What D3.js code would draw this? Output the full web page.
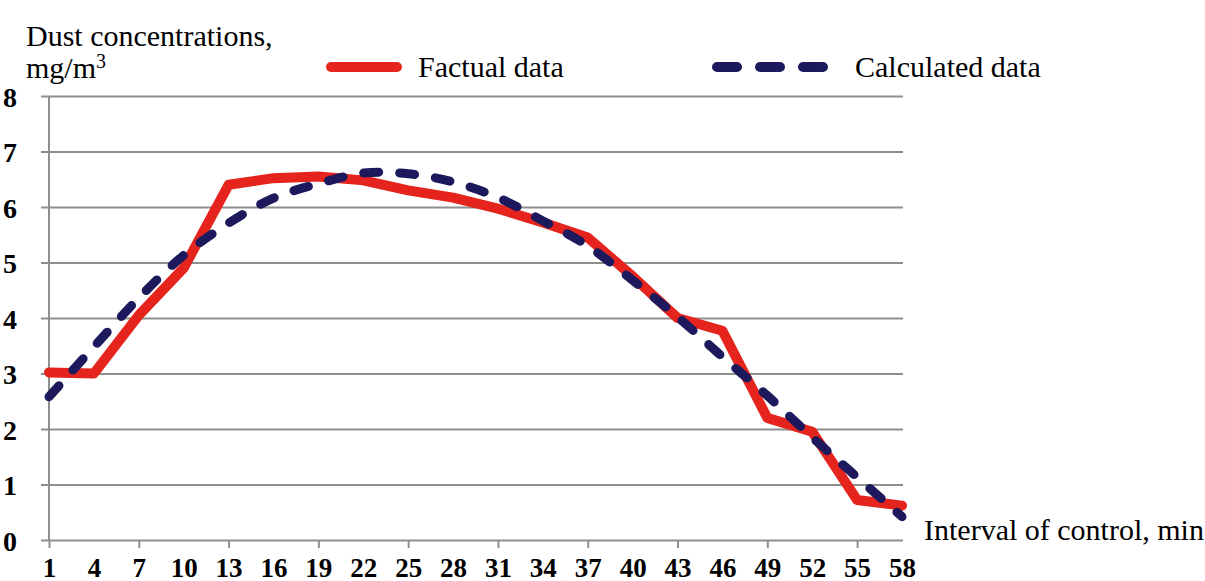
<!DOCTYPE html>
<html>
<head>
  <meta charset="utf-8">
  <script src="https://d3js.org/d3.v7.min.js"></script>
  <style>
    body { margin: 0; background: #fff; }
    text { font-family: "Liberation Serif", "Times New Roman", serif; fill: #000; }
  </style>
</head>
<body>
  <script type="text/javascript">
    // interval of control, min (every 3 minutes)
    var minutes = [1, 4, 7, 10, 13, 16, 19, 22, 25, 28, 31, 34, 37, 40, 43, 46, 49, 52, 55, 58];
    // dust concentrations, mg/m3
    var factual = [3.02, 3.0, 4.05, 4.9, 6.4, 6.52, 6.55, 6.48, 6.3, 6.17, 5.97, 5.72, 5.45, 4.75, 4.0, 3.77, 2.2, 1.95, 0.72, 0.62];
    var calculated = [2.58, 3.48, 4.36, 5.13, 5.71, 6.16, 6.42, 6.61, 6.6, 6.45, 6.17, 5.75, 5.3, 4.68, 4.02, 3.3, 2.6, 1.85, 1.13, 0.42];
    var yTicks = [0, 1, 2, 3, 4, 5, 6, 7, 8];
    var xMarks = [1, 7, 13, 19, 25, 31, 37, 43, 49, 55];

    function draw() {
      "use strict";
      var width = 1205, height = 581;
      var plotLeft = 49, plotRight = 902, plotTop = 96, plotBottom = 540;
      var red = "#e5241d", navy = "#1c1a5c", grid = "#8e8e8e";

      var svg = d3.select("body")
        .append("svg")
        .attr("width", width)
        .attr("height", height);

      var x = d3.scaleLinear().domain([1, 58]).range([plotLeft, plotRight]);
      var y = d3.scaleLinear().domain([0, 8]).range([plotBottom, plotTop]);

      // horizontal gridlines + y labels
      var yAxis = svg.append("g")
        .attr("transform", "translate(" + plotLeft + ",0)")
        .call(d3.axisLeft(y).tickValues(yTicks).tickSize(8).tickPadding(24).tickFormat(d3.format("d")));
      yAxis.select(".domain").remove();
      yAxis.selectAll("line")
        .attr("x1", -8)
        .attr("x2", plotRight + 1 - plotLeft)
        .style("stroke", grid)
        .style("stroke-width", 2);
      yAxis.selectAll("text")
        .style("font-size", "28px")
        .style("font-weight", 600)
        .attr("dy", "0.36em");

      // vertical axis line
      svg.append("line")
        .attr("x1", plotLeft).attr("x2", plotLeft)
        .attr("y1", y(8)).attr("y2", y(0))
        .style("stroke", grid)
        .style("stroke-width", 2);

      // x tick marks every 6 minutes
      var xTickAxis = svg.append("g")
        .attr("transform", "translate(0," + plotBottom + ")")
        .call(d3.axisBottom(x).tickValues(xMarks).tickSize(8).tickFormat(""));
      xTickAxis.select(".domain").remove();
      xTickAxis.selectAll("line").style("stroke", grid).style("stroke-width", 2);

      // x labels every 3 minutes
      var xAxis = svg.append("g")
        .attr("transform", "translate(0," + plotBottom + ")")
        .call(d3.axisBottom(x).tickValues(minutes).tickSize(0).tickPadding(18).tickFormat(d3.format("d")));
      xAxis.select(".domain").remove();
      xAxis.selectAll("text")
        .style("font-size", "27px")
        .style("font-weight", 600);

      // series
      var lineF = d3.line()
        .x(function(d, i) { return x(minutes[i]); })
        .y(function(d) { return y(d); })
        .curve(d3.curveLinear);
      var lineC = d3.line()
        .x(function(d, i) { return x(minutes[i]); })
        .y(function(d) { return y(d); })
        .curve(d3.curveCatmullRom);

      svg.append("path")
        .datum(factual)
        .attr("d", lineF)
        .style("fill", "none")
        .style("stroke", red)
        .style("stroke-width", 10)
        .style("stroke-linejoin", "round")
        .style("stroke-linecap", "round");

      svg.append("path")
        .datum(calculated)
        .attr("d", lineC)
        .style("fill", "none")
        .style("stroke", navy)
        .style("stroke-width", 9)
        .style("stroke-dasharray", "15,21")
        .style("stroke-linecap", "round");

      // titles
      svg.append("text")
        .attr("x", 26).attr("y", 46)
        .style("font-size", "30px")
        .text("Dust concentrations,");
      var unit = svg.append("text")
        .attr("x", 26).attr("y", 78)
        .style("font-size", "30px");
      unit.append("tspan").text("mg/m");
      unit.append("tspan").attr("dy", -10).style("font-size", "20px").text("3");

      svg.append("text")
        .attr("x", 924).attr("y", 540)
        .style("font-size", "30px")
        .text("Interval of control, min");

      // legend
      svg.append("line")
        .attr("x1", 331).attr("x2", 397)
        .attr("y1", 67).attr("y2", 67)
        .style("stroke", red)
        .style("stroke-width", 10)
        .style("stroke-linecap", "round");
      svg.append("text")
        .attr("x", 418).attr("y", 77)
        .style("font-size", "30px")
        .text("Factual data");

      svg.append("line")
        .attr("x1", 717).attr("x2", 823)
        .attr("y1", 67).attr("y2", 67)
        .style("stroke", navy)
        .style("stroke-width", 10)
        .style("stroke-dasharray", "20,23")
        .style("stroke-linecap", "round");
      svg.append("text")
        .attr("x", 855).attr("y", 77)
        .style("font-size", "30px")
        .text("Calculated data");
    }

    draw();
  </script>
</body>
</html>
